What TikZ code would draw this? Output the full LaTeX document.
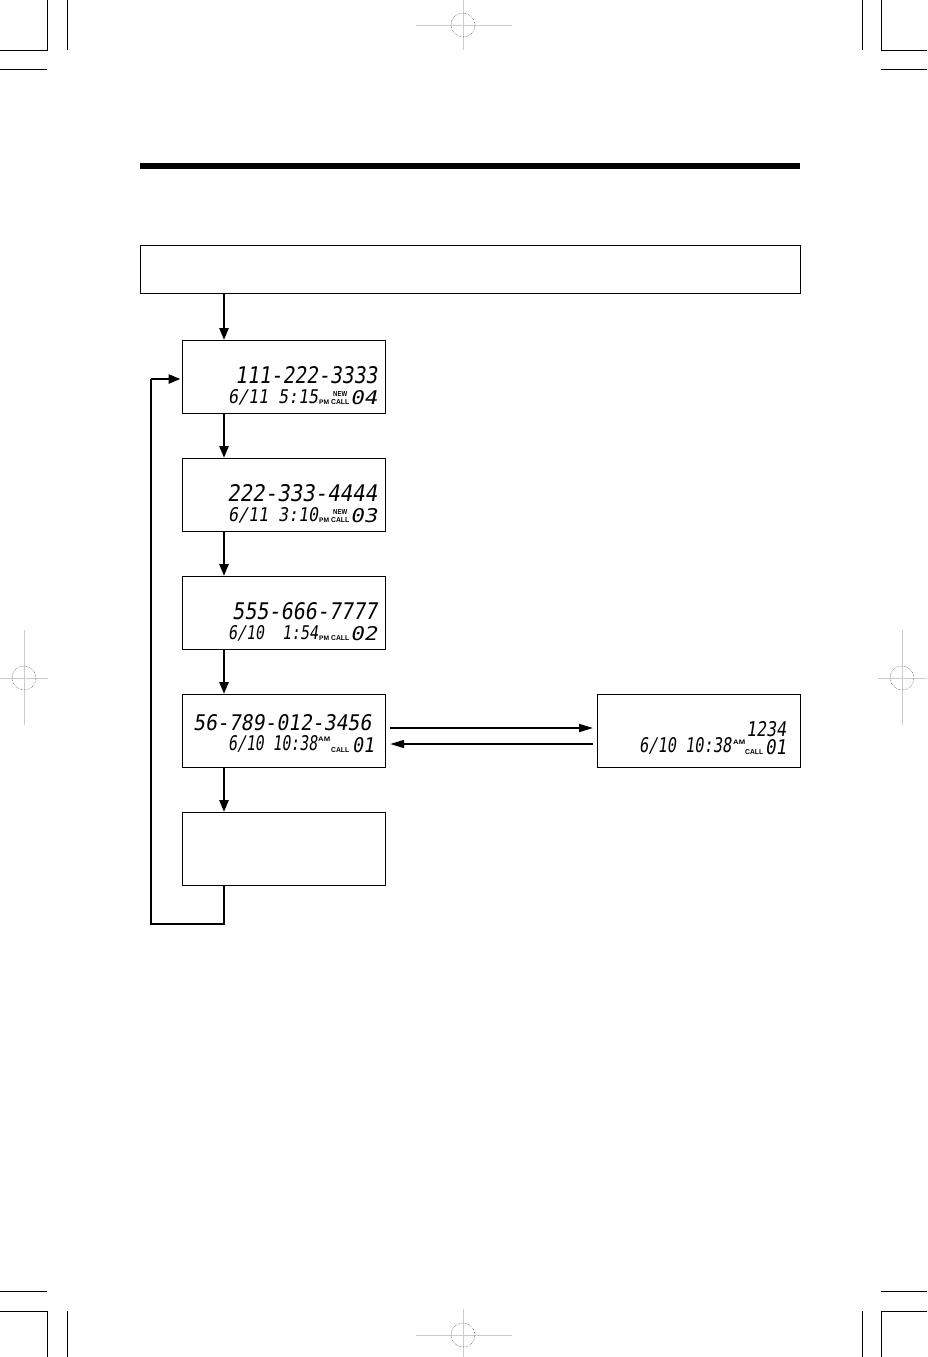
\documentclass[tikz,border=0pt]{standalone}
\usepackage{fontspec}
\usepackage{graphicx}
\usetikzlibrary{arrows.meta}
\newfontfamily\lcdfont{DejaVu Sans Mono}[FakeSlant=0.18]
\newfontfamily\lblfont{Liberation Sans}
\newcommand{\lcdtxt}[3]{\resizebox{#1pt}{#2pt}{\lcdfont #3}}
\newcommand{\lbltxt}[3]{\resizebox{#1pt}{#2pt}{\lblfont\bfseries #3}}
\tikzset{
  lcdbox/.style={draw=black, line width=1.2pt, minimum width=203pt, minimum height=73pt, inner sep=0pt, anchor=north west},
  headbox/.style={draw=black, line width=1.2pt, minimum width=660pt, minimum height=48pt, inner sep=0pt, anchor=north west},
  lcd/.style={inner sep=0pt, anchor=south west},
  varr/.style={line width=2.6pt, -{Triangle[length=12pt,width=9pt]}},
  harr/.style={line width=1.8pt, -{Triangle[length=14pt,width=8pt]}},
  loopline/.style={line width=2.6pt},
  crop/.style={line width=1pt, black},
  reg/.style={line width=0.6pt, gray!40},
  regc/.style={line width=0.5pt, black!70, densely dotted}
}
\begin{document}
\begin{tikzpicture}[x=1pt, y=-1pt]
\useasboundingbox (0,0) rectangle (927,1357);
% crop marks
\draw[crop] (47,0) -- (47,50) -- (0,50);
\draw[crop] (67,0) -- (67,50);
\draw[crop] (0,69) -- (47,69);
\draw[crop] (881,0) -- (881,50) -- (927,50);
\draw[crop] (862,0) -- (862,50);
\draw[crop] (881,69) -- (927,69);
\draw[crop] (0,1291) -- (47,1291);
\draw[crop] (0,1311) -- (47,1311) -- (47,1357);
\draw[crop] (67,1311) -- (67,1357);
\draw[crop] (881,1291) -- (927,1291);
\draw[crop] (927,1311) -- (881,1311) -- (881,1357);
\draw[crop] (862,1311) -- (862,1357);
% registration marks
\draw[reg] (416,25) -- (512,25); \draw[reg] (463,0) -- (463,50);
\draw[regc] (463,25) circle (12);
\draw[reg] (416,1335) -- (512,1335); \draw[reg] (463,1309) -- (463,1357);
\draw[regc] (463,1335) circle (12);
\draw[reg] (0,678) -- (48,678); \draw[reg] (24,630) -- (24,725);
\draw[regc] (24,678) circle (12);
\draw[reg] (878,678) -- (927,678); \draw[reg] (902,630) -- (902,725);
\draw[regc] (902,678) circle (12);
% title bar
\fill[black] (140,162.5) rectangle (800,169);
% header box
\node[headbox] (top) at (140,245) {};
% displays
\node[lcdbox] (d1) at (182,340) {};
\node[lcdbox] (d2) at (182,458) {};
\node[lcdbox] (d3) at (182,576) {};
\node[lcdbox] (d4) at (182,694) {};
\node[lcdbox] (d5) at (182,812) {};
\node[lcdbox] (r) at (597,694) {};
% display 1
\node[lcd] (d1a) at (235,384) {\lcdtxt{142}{17}{111-222-3333}};
\node[lcd] (d1b) at (228,405) {\lcdtxt{90}{14}{6/11 5:15}};
\node[lcd] (d1c) at (319,405) {\lbltxt{10}{4.5}{PM}};
\node[lcd] (d1d) at (333,397) {\lbltxt{14}{5}{NEW}};
\node[lcd] (d1e) at (331,405) {\lbltxt{18}{5}{CALL}};
\node[lcd] (d1f) at (350,405) {\lcdtxt{27}{14}{04}};
% display 2
\node[lcd] (d2a) at (227,502) {\lcdtxt{150}{17}{222-333-4444}};
\node[lcd] (d2b) at (228,523) {\lcdtxt{90}{14}{6/11 3:10}};
\node[lcd] (d2c) at (319,523) {\lbltxt{10}{4.5}{PM}};
\node[lcd] (d2d) at (333,515) {\lbltxt{14}{5}{NEW}};
\node[lcd] (d2e) at (331,523) {\lbltxt{18}{5}{CALL}};
\node[lcd] (d2f) at (350,523) {\lcdtxt{27}{14}{03}};
% display 3
\node[lcd] (d3a) at (232,620) {\lcdtxt{145}{17}{555-666-7777}};
\node[lcd] (d3b) at (228,641) {\lcdtxt{90}{14}{6/10~~1:54}};
\node[lcd] (d3c) at (319,641) {\lbltxt{10}{4.5}{PM}};
\node[lcd] (d3e) at (331,641) {\lbltxt{18}{5}{CALL}};
\node[lcd] (d3f) at (350,641) {\lcdtxt{27}{14}{02}};
% display 4
\node[lcd] (d4a) at (193,731) {\lcdtxt{178}{16}{56-789-012-3456}};
\node[lcd] (d4b) at (228,753) {\lcdtxt{89}{15}{6/10 10:38}};
\node[lcd] (d4c) at (318,742) {\lbltxt{12}{4.5}{AM}};
\node[lcd] (d4e) at (331,753) {\lbltxt{18}{5}{CALL}};
\node[lcd] (d4f) at (352,753) {\lcdtxt{22}{15}{01}};
% right display
\node[lcd] (ra) at (746,737) {\lcdtxt{40}{15}{1234}};
\node[lcd] (rb) at (639,755) {\lcdtxt{92}{15}{6/10 10:38}};
\node[lcd] (rc) at (733,745) {\lbltxt{12}{4.5}{AM}};
\node[lcd] (re) at (745,755) {\lbltxt{18}{5}{CALL}};
\node[lcd] (rf) at (765,755) {\lcdtxt{21}{15}{01}};
% connectors
\coordinate (ax) at (224,0);
\draw[varr] (top.south -| ax) -- (d1.north -| ax);
\draw[varr] (d1.south -| ax) -- (d2.north -| ax);
\draw[varr] (d2.south -| ax) -- (d3.north -| ax);
\draw[varr] (d3.south -| ax) -- (d4.north -| ax);
\draw[varr] (d4.south -| ax) -- (d5.north -| ax);
\coordinate (hu) at (0,728);
\coordinate (hl) at (0,744);
\draw[harr, shorten <=4pt, shorten >=4pt] (d4.east |- hu) -- (r.west |- hu);
\draw[harr, shorten <=4pt, shorten >=4pt] (r.west |- hl) -- (d4.east |- hl);
\coordinate (lb) at (224,924);
\coordinate (ll) at (151,924);
\coordinate (lt) at (151,379);
\draw[loopline] (d5.south -| ax) -- (lb) -- (ll) -- (lt);
\draw[varr, shorten >=1.5pt] (lt) -- (d1.west |- lt);
\end{tikzpicture}
\end{document}
